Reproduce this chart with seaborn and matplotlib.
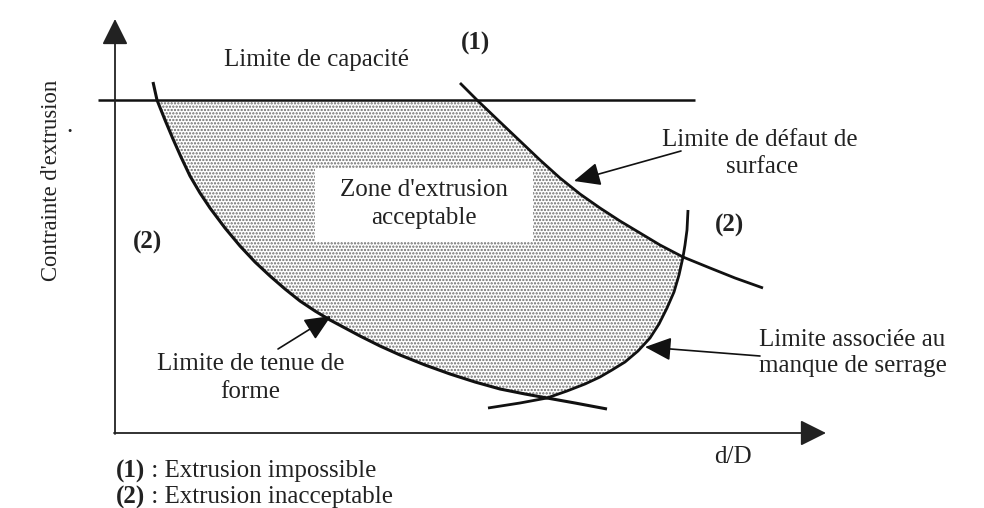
import numpy as np
import pandas as pd
import matplotlib
matplotlib.use("Agg")
import matplotlib.pyplot as plt
import seaborn as sns

# ---- data (diagram coordinates) ----
cap_x = [98, 695]
cap_y = [100, 100]

forme_x = [153, 157, 165, 173, 181, 190, 200, 210, 225, 240, 255, 270, 285, 300, 315,
           330, 345, 360, 380, 400, 425, 450, 475, 500, 525, 547, 575, 607]
forme_y = [82, 100, 120, 139, 157, 176, 193, 208, 228, 246, 262, 276, 289, 301, 311,
           320, 328, 336, 346, 355, 365, 374, 382, 389, 394, 398, 403, 409]

surface_x = [460, 477, 500, 520, 540, 560, 580, 600, 620, 640, 660, 683, 710, 735, 763]
surface_y = [83, 100, 122, 141, 160, 178, 194, 208, 221, 233, 245, 257, 268, 278, 288]

serrage_x = [688, 687, 685, 683, 679, 674, 667, 659, 650, 638, 625, 612, 600, 585, 567, 547, 520, 488]
serrage_y = [210, 230, 245, 257, 275, 292, 308, 324, 338, 351, 362, 370, 377, 384, 391, 398, 403, 408]

zone_box = (315, 168, 533, 242)  # x0, y0, x1, y1 white box of the label

sns.set_theme(style="white")
plt.rcParams["font.family"] = ["Liberation Serif", "DejaVu Serif"]

fig = plt.figure(figsize=(9.84, 5.08), dpi=100)
ax = fig.add_axes([0, 0, 1, 1])

# ---- acceptable zone (dotted) ----
fx, fy = np.array(forme_x), np.array(forme_y)
sx, sy = np.array(surface_x), np.array(surface_y)
rx, ry = np.array(serrage_x), np.array(serrage_y)
m1 = (sy >= 100) & (sy <= 257)
m2 = (ry >= 257) & (ry <= 398)
m3 = (fy >= 100) & (fy <= 398)
poly_x = np.concatenate([sx[m1], rx[m2], fx[m3][::-1]])
poly_y = np.concatenate([sy[m1], ry[m2], fy[m3][::-1]])
plt.rcParams["hatch.linewidth"] = 1.1
ax.fill(poly_x, poly_y, facecolor="white", edgecolor="#6a6a6a", hatch=".....", linewidth=0, zorder=1)
x0, y0, x1, y1 = zone_box
ax.add_patch(plt.Rectangle((x0, y0), x1 - x0, y1 - y0, facecolor="white", edgecolor="none", zorder=2))

# ---- curves ----
curves = pd.concat([
    pd.DataFrame({"x": cap_x, "y": cap_y, "c": "cap"}),
    pd.DataFrame({"x": forme_x, "y": forme_y, "c": "forme"}),
    pd.DataFrame({"x": surface_x, "y": surface_y, "c": "surface"}),
    pd.DataFrame({"x": serrage_x, "y": serrage_y, "c": "serrage"}),
])
for name, lw in [("cap", 1.8), ("forme", 2.2), ("surface", 2.0), ("serrage", 2.0)]:
    d = curves[curves.c == name]
    sns.lineplot(data=d, x="x", y="y", sort=False, estimator=None, color="#111111",
                 linewidth=lw, ax=ax, legend=False, zorder=3,
                 solid_joinstyle="round", solid_capstyle="butt")
ax.set_xlim(0, 984)
ax.set_ylim(508, 0)
ax.axis("off")

# ---- axes with arrows ----
axis_kw = dict(arrowstyle="-|>,head_length=0.8,head_width=0.4", color="#222222", lw=1.3,
               shrinkA=0, shrinkB=0, mutation_scale=20)
ax.annotate("", xy=(115, 19), xytext=(115, 434), arrowprops=axis_kw, zorder=4)
ax.annotate("", xy=(826, 433), xytext=(114, 433), arrowprops=axis_kw, zorder=4)

# ---- pointer arrows ----
ptr_kw = dict(arrowstyle="-|>,head_length=0.9,head_width=0.4", color="#111111", lw=1.2,
              shrinkA=0, shrinkB=0, mutation_scale=18)
ax.annotate("", xy=(574, 181), xytext=(681, 151), arrowprops=ptr_kw, zorder=4)
ax.annotate("", xy=(331, 316), xytext=(278, 349), arrowprops=ptr_kw, zorder=4)
ax.annotate("", xy=(645, 347), xytext=(760, 356), arrowprops=ptr_kw, zorder=4)

# ---- texts ----
tc = "#222222"
fs = 18
ax.text(317, 60, "Limite de capacité", fontsize=fs, color=tc, ha="center", va="center")
ax.text(476, 43, "(1)", fontsize=fs, color=tc, ha="center", va="center", fontweight="bold")
ax.text(424, 190, "Zone d'extrusion", fontsize=fs, color=tc, ha="center", va="center", zorder=5)
ax.text(424, 218, "acceptable", fontsize=fs, color=tc, ha="center", va="center", zorder=5)
ax.text(662, 140, "Limite de défaut de", fontsize=fs, color=tc, ha="left", va="center")
ax.text(762, 167, "surface", fontsize=fs, color=tc, ha="center", va="center")
ax.text(730, 225, "(2)", fontsize=fs, color=tc, ha="center", va="center", fontweight="bold")
ax.text(148, 242, "(2)", fontsize=fs, color=tc, ha="center", va="center", fontweight="bold")
ax.text(251, 364, "Limite de tenue de", fontsize=fs, color=tc, ha="center", va="center")
ax.text(250, 392, "forme", fontsize=fs, color=tc, ha="center", va="center")
ax.text(759, 340, "Limite associée au", fontsize=fs, color=tc, ha="left", va="center")
ax.text(759, 366, "manque de serrage", fontsize=fs, color=tc, ha="left", va="center")
ax.text(733, 457, "d/D", fontsize=fs, color=tc, ha="center", va="center")
ax.text(52, 180, "Contrainte d'extrusion", fontsize=16.3, color=tc, ha="center", va="center", rotation=90)
ax.text(70, 126, ".", fontsize=fs, color=tc, ha="center", va="center")

ax.text(116, 471, "(1)", fontsize=fs, color=tc, ha="left", va="center", fontweight="bold")
ax.text(145, 471, " : Extrusion impossible", fontsize=fs, color=tc, ha="left", va="center")
ax.text(116, 497, "(2)", fontsize=fs, color=tc, ha="left", va="center", fontweight="bold")
ax.text(145, 497, " : Extrusion inacceptable", fontsize=fs, color=tc, ha="left", va="center")

fig.savefig("out.png", dpi=100, facecolor="white")
